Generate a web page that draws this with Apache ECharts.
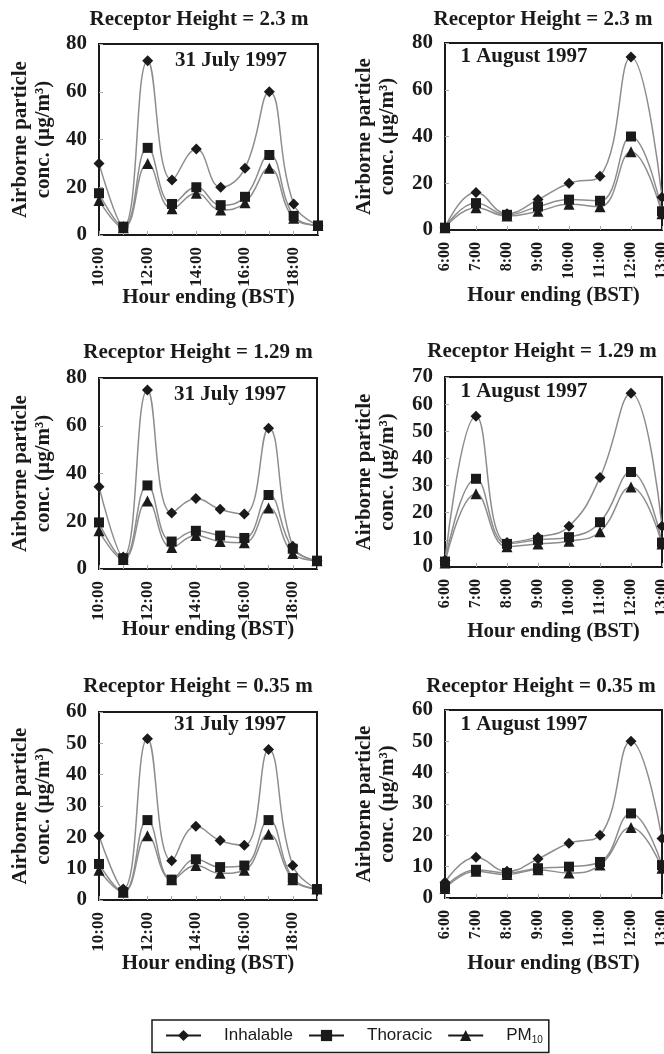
<!DOCTYPE html>
<html>
<head>
<meta charset="utf-8">
<script src="https://cdn.jsdelivr.net/npm/echarts@6/dist/echarts.min.js"></script>
<style>
  html, body { margin: 0; padding: 0; background: #fff; }
  #chart { width: 664px; height: 1054px; }
</style>
</head>
<body>
<div id="chart"></div>
<script>
// categories
const hoursJul = ['10:00', '11:00', '12:00', '13:00', '14:00', '15:00', '16:00', '17:00', '18:00', '19:00']
const hoursAug = ['6:00', '7:00', '8:00', '9:00', '10:00', '11:00', '12:00', '13:00']

// 31 July, receptor height 2.3 m
const julInh230 = [30, 3.5, 73, 23, 36, 20, 28, 60, 13, 4]
const julTho230 = [17.5, 3.5, 36.5, 13, 20, 12.5, 16, 33.5, 8, 4]
const julPm230 = [14.5, 3, 30, 11, 17.5, 10.5, 13.5, 28, 7, 4]
// 1 August, 2.3 m
const augInh230 = [1, 16, 7, 13, 20, 23, 74, 14]
const augTho230 = [1, 11.5, 6.5, 10, 13, 12.5, 40, 8]
const augPm230 = [1, 9.5, 6, 8, 11, 10, 33.5, 7]
// 31 July, 1.29 m
const julInh129 = [34.5, 5, 75, 23.5, 29.5, 25, 23, 59, 9.5, 3.5]
const julTho129 = [19.5, 4.5, 35, 11.5, 16, 14, 13, 31, 8.5, 3.5]
const julPm129 = [16, 4, 28.5, 9, 14, 11.5, 11, 25.5, 6.5, 3.5]
// 1 August, 1.29 m
const augInh129 = [2.5, 55.5, 9, 11, 15, 33, 64, 15]
const augTho129 = [2, 32.5, 8.5, 10, 11, 16.5, 35, 9]
const augPm129 = [1.5, 27, 7.5, 8.5, 9.5, 13, 29.5, 8.5]
// 31 July, 0.35 m
const julInh035 = [20.5, 3.5, 51.5, 12.5, 23.5, 19, 17.5, 48, 11, 3.5]
const julTho035 = [11.5, 2.5, 25.5, 6.5, 13, 10.5, 11, 25.5, 7, 3.5]
const julPm035 = [9.5, 2.5, 20.5, 6.5, 11, 8.5, 9.5, 21, 6.5, 3.5]
// 1 August, 0.35 m
const augInh035 = [5, 13, 8.5, 12.5, 17.5, 20, 50, 19]
const augTho035 = [3.5, 9, 8, 9.5, 10, 11.5, 27, 10.5]
const augPm035 = [3, 8.5, 7.5, 9, 8, 10.5, 22.5, 9.5]

// y axis ranges
const yMax = [80, 80, 80, 70, 60, 60]
const yStep = [20, 20, 20, 10, 10, 10]

const seriesNames = ['Inhalable', 'Thoracic', 'PM10']
const heights = ['2.3', '2.3', '1.29', '1.29', '0.35', '0.35']
const dates = ['31 July 1997', '1 August 1997']

const panelData = [
  [hoursJul, julInh230, julTho230, julPm230],
  [hoursAug, augInh230, augTho230, augPm230],
  [hoursJul, julInh129, julTho129, julPm129],
  [hoursAug, augInh129, augTho129, augPm129],
  [hoursJul, julInh035, julTho035, julPm035],
  [hoursAug, augInh035, augTho035, augPm035]
]

// layout of each panel (pixels)
const layout = [
  { left : 99, top : 44, width : 219, height : 191, titleX : 199, titleY : 20, dateX : 231, dateY : 61, xGap : 52, yGap : 44 },
  { left : 445, top : 43, width : 217, height : 187, titleX : 543, titleY : 20, dateX : 524, dateY : 57, xGap : 55, yGap : 46 },
  { left : 99, top : 378, width : 218, height : 191, titleX : 198, titleY : 353, dateX : 230, dateY : 395, xGap : 50, yGap : 44 },
  { left : 445, top : 377, width : 217, height : 190, titleX : 542, titleY : 352, dateX : 524, dateY : 392, xGap : 54, yGap : 46 },
  { left : 99, top : 712, width : 218, height : 188, titleX : 198, titleY : 687, dateX : 230, dateY : 725, xGap : 53, yGap : 44 },
  { left : 445, top : 710, width : 217, height : 188, titleX : 541, titleY : 687, dateX : 524, dateY : 725, xGap : 55, yGap : 46 }
]

const symbols = ['diamond', 'rect', 'triangle']
const symbolSizes = [11, 10, 11]
const serif = '"Liberation Serif", "Times New Roman", serif'
const sans = '"Liberation Sans", Arial, sans-serif'
const ink = '#1a1a1a'

const chart = echarts.init( document.getElementById( 'chart' ) )

const grids = []
const xAxes = []
const yAxes = []
const series = []
const graphics = []

layout.forEach( ( p, i ) => {
  const isJul = i % 2 === 0
  grids.push( {
    left : p.left,
    top : p.top,
    width : p.width,
    height : p.height,
    show : true,
    borderColor : ink,
    borderWidth : 2,
    outerBoundsMode : 'none'
  } )
  xAxes.push( {
    gridIndex : i,
    type : 'category',
    boundaryGap : false,
    data : panelData[i][0],
    name : 'Hour ending (BST)',
    nameLocation : 'middle',
    nameGap : p.xGap,
    nameMoveOverlap : false,
    nameTextStyle : { fontFamily : serif, fontWeight : 'bold', fontSize : 21, color : ink },
    axisLine : { show : false },
    axisTick : { show : true, inside : true, length : 4, interval : 0, lineStyle : { color : '#aaa' } },
    axisLabel : {
      rotate : 90,
      interval : isJul ? 1 : 0,
      margin : 12,
      fontFamily : serif,
      fontWeight : 'bold',
      fontSize : isJul ? 17 : 16,
      color : ink
    },
    splitLine : { show : false }
  } )
  yAxes.push( {
    gridIndex : i,
    type : 'value',
    min : 0,
    max : yMax[i],
    interval : yStep[i],
    name : 'Airborne particle\nconc. (µg/m³)',
    nameLocation : 'middle',
    nameGap : p.yGap,
    nameMoveOverlap : false,
    nameTextStyle : { fontFamily : serif, fontWeight : 'bold', fontSize : 21, lineHeight : 23, color : ink },
    axisLine : { show : false },
    axisTick : { show : true, inside : true, length : 4, lineStyle : { color : '#aaa' } },
    axisLabel : { margin : 12, fontFamily : serif, fontWeight : 'bold', fontSize : 21, color : ink },
    splitLine : { show : false }
  } )
  seriesNames.forEach( ( name, k ) => {
    series.push( {
      name : name,
      type : 'line',
      xAxisIndex : i,
      yAxisIndex : i,
      smooth : 0.45,
      symbol : symbols[k],
      symbolSize : symbolSizes[k],
      itemStyle : { color : ink },
      lineStyle : { color : '#8d8d8d', width : 1.5 },
      emphasis : { disabled : true },
      data : panelData[i][k + 1]
    } )
  } )
  graphics.push( {
    type : 'text',
    x : p.titleX,
    y : p.titleY,
    style : {
      text : 'Receptor Height = ' + heights[i] + ' m',
      font : 'bold 21px ' + serif,
      fill : ink,
      align : 'center',
      verticalAlign : 'middle'
    }
  } )
  graphics.push( {
    type : 'text',
    x : p.dateX,
    y : p.dateY,
    style : {
      text : dates[isJul ? 0 : 1],
      font : 'bold 21px ' + serif,
      fill : ink,
      align : 'center',
      verticalAlign : 'middle'
    }
  } )
} )

chart.setOption( {
  backgroundColor : '#fff',
  animation : false,
  grid : grids,
  xAxis : xAxes,
  yAxis : yAxes,
  series : series,
  graphic : graphics,
  legend : {
    data : seriesNames,
    left : 152,
    top : 1020,
    orient : 'horizontal',
    padding : [7, 6, 7, 13],
    itemGap : 15,
    itemWidth : 35,
    itemHeight : 14,
    borderColor : ink,
    borderWidth : 1.5,
    borderRadius : 0,
    selectedMode : false,
    lineStyle : { color : ink, width : 2 },
    formatter : name => name === 'PM10' ? '{a|PM}{s|10}' : name,
    textStyle : {
      fontFamily : sans,
      fontSize : 17,
      color : ink,
      padding : [0, 0, 0, 18],
      rich : {
        a : { fontFamily : sans, fontSize : 17, color : ink, lineHeight : 20 },
        s : { fontFamily : sans, fontSize : 10, color : ink, verticalAlign : 'bottom', lineHeight : 20 }
      }
    }
  }
} )
</script>
</body>
</html>
